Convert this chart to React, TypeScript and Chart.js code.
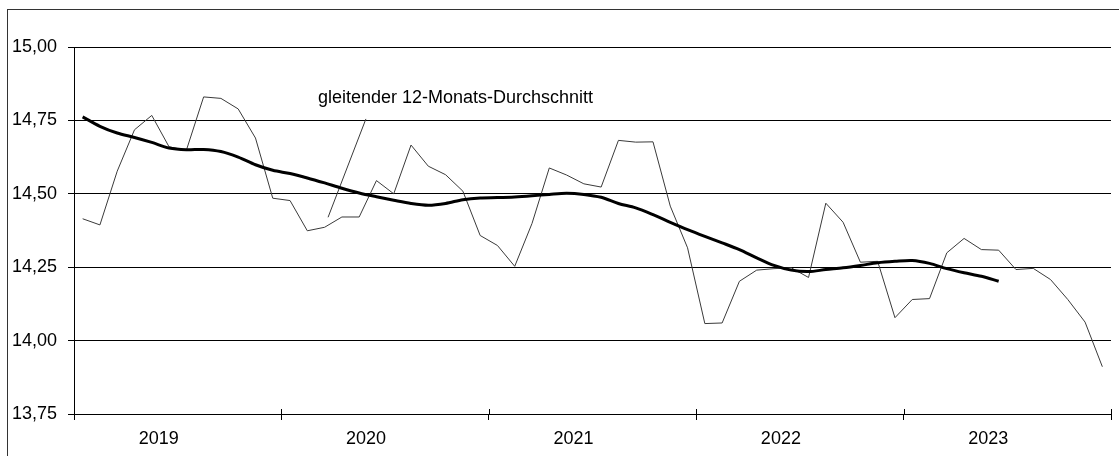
import React, { useEffect, useRef } from "react";
import { Chart, registerables } from "chart.js";

Chart.register(...registerables);

// Monthly values (Jan 2019 .. Dec 2023)
const monthlyValues: number[] = [
  14.415, 14.394, 14.577, 14.718, 14.767, 14.66, 14.648, 14.83, 14.825, 14.789, 14.69, 14.485,
  14.477, 14.374, 14.386, 14.421, 14.421, 14.545, 14.5, 14.666, 14.594, 14.565, 14.509, 14.358,
  14.324, 14.253, 14.399, 14.588, 14.564, 14.534, 14.523, 14.682, 14.676, 14.677, 14.458, 14.316,
  14.058, 14.06, 14.202, 14.24, 14.245, 14.248, 14.215, 14.468, 14.403, 14.267, 14.27, 14.078,
  14.14, 14.143, 14.299, 14.348, 14.31, 14.308, 14.242, 14.246, 14.208, 14.14, 14.063, 13.911,
];

// Moving 12-month average (available for the first 54 months)
const movingAverage: number[] = [
  14.762, 14.73, 14.707, 14.692, 14.675, 14.656, 14.65, 14.651, 14.644, 14.625, 14.599, 14.58,
  14.569, 14.554, 14.537, 14.519, 14.503, 14.49, 14.478, 14.467, 14.461, 14.467, 14.48, 14.486,
  14.487, 14.489, 14.493, 14.498, 14.502, 14.498, 14.488, 14.467, 14.452, 14.429, 14.403, 14.378,
  14.355, 14.333, 14.31, 14.282, 14.256, 14.24, 14.235, 14.242, 14.248, 14.256, 14.265, 14.27,
  14.273, 14.263, 14.245, 14.231, 14.219, 14.202,
];

const years: string[] = ["2019", "2020", "2021", "2022", "2023"];
const yTicks: number[] = [13.75, 14.0, 14.25, 14.5, 14.75, 15.0];

// Callout line for the moving-average label (month index, value)
const calloutX: number[] = [14.2, 16.39];
const calloutY: number[] = [14.42, 14.755];
const calloutText = "gleitender 12-Monats-Durchschnitt";
const calloutLabelX = 21.57;
const calloutLabelY = 14.81;

const FONT = "'Liberation Sans', Arial, Helvetica, sans-serif";

export default function App() {
  const canvasRef = useRef<HTMLCanvasElement | null>(null);

  useEffect(() => {
    const canvas = canvasRef.current;
    if (!canvas) return;

    const boundaries = years.map((_, i) => i * 12 - 0.5).concat([years.length * 12 - 0.5]);
    const labelPos = years.map((_, i) => i * 12 + 4.4);
    const yearAt = (v: number) => {
      const idx = labelPos.findIndex((c) => Math.abs(c - v) < 1e-6);
      return idx >= 0 ? years[idx] : "";
    };
    const isBoundary = (v: number) => boundaries.some((b) => Math.abs(b - v) < 1e-6);

    const annotationPlugin = {
      id: "annot",
      afterDatasetsDraw(chart: any) {
        const { ctx, scales } = chart;
        const xs = scales.x;
        const ys = scales.y;
        ctx.save();
        ctx.strokeStyle = "#000";
        ctx.lineWidth = 1;
        boundaries.forEach((b) => {
          const px = Math.round(xs.getPixelForValue(b)) + 0.5;
          ctx.beginPath();
          ctx.moveTo(px, ys.bottom - 5);
          ctx.lineTo(px, ys.bottom);
          ctx.stroke();
        });
        ctx.fillStyle = "#000";
        ctx.font = `18px ${FONT}`;
        ctx.textAlign = "center";
        ctx.textBaseline = "alphabetic";
        ctx.fillText(calloutText, xs.getPixelForValue(calloutLabelX), ys.getPixelForValue(calloutLabelY));
        ctx.restore();
      },
    };

    const chart = new Chart(canvas, {
      type: "line",
      data: {
        datasets: [
          {
            label: "Monatswert",
            data: monthlyValues.map((v, i) => ({ x: i, y: v })),
            borderColor: "#3a3a3a",
            borderWidth: 1,
            pointRadius: 0,
            tension: 0,
            order: 2,
          },
          {
            label: "gleitender 12-Monats-Durchschnitt",
            data: movingAverage.map((v, i) => ({ x: i, y: v })),
            borderColor: "#000",
            borderWidth: 3,
            pointRadius: 0,
            tension: 0.3,
            order: 1,
          },
          {
            label: "Hinweislinie",
            data: calloutX.map((x, i) => ({ x, y: calloutY[i] })),
            borderColor: "#3a3a3a",
            borderWidth: 1,
            pointRadius: 0,
            tension: 0,
            order: 3,
          },
        ],
      },
      options: {
        animation: false,
        responsive: true,
        maintainAspectRatio: false,
        layout: { padding: { top: 47, right: 6, left: 0, bottom: 0 } },
        plugins: {
          legend: { display: false },
          tooltip: { enabled: false },
          title: { display: false },
        },
        scales: {
          x: {
            type: "linear",
            min: -0.5,
            max: years.length * 12 - 0.5,
            afterBuildTicks: (scale: any) => {
              const vals = boundaries.concat(labelPos).sort((a, b) => a - b);
              scale.ticks = vals.map((v) => ({ value: v }));
            },
            afterFit: (scale: any) => {
              scale.height = 42;
            },
            border: { display: true, color: "#000", width: 1 },
            grid: {
              drawOnChartArea: false,
              drawTicks: true,
              tickLength: 6,
              tickColor: (ctx: any) => (ctx.tick && isBoundary(ctx.tick.value) ? "#000" : "rgba(0,0,0,0)"),
              color: "rgba(0,0,0,0)",
            },
            ticks: {
              autoSkip: false,
              maxRotation: 0,
              minRotation: 0,
              padding: 8,
              color: "#000",
              font: { family: FONT, size: 18 },
              callback: (v: any) => yearAt(Number(v)),
            },
          },
          y: {
            type: "linear",
            min: 13.75,
            max: 15,
            afterBuildTicks: (scale: any) => {
              scale.ticks = yTicks.map((v) => ({ value: v }));
            },
            afterFit: (scale: any) => {
              scale.width = 74;
            },
            border: { display: true, color: "#000", width: 1 },
            grid: {
              color: "#000",
              lineWidth: 1,
              tickLength: 6,
              tickColor: "#000",
            },
            ticks: {
              padding: 11,
              color: "#000",
              font: { family: FONT, size: 18 },
              callback: (v: any) => Number(v).toFixed(2).replace(".", ","),
            },
          },
        },
      },
      plugins: [annotationPlugin],
    } as any);

    return () => chart.destroy();
  }, []);

  return (
    <div
      style={{
        position: "fixed",
        left: 0,
        top: 0,
        width: 1119,
        height: 456,
        overflow: "hidden",
        background: "#fff",
      }}
    >
      <div
        style={{
          position: "absolute",
          left: 7,
          top: 9,
          width: 1200,
          height: 600,
          borderTop: "1px solid #333",
          borderLeft: "1px solid #333",
        }}
      />
      <div style={{ position: "absolute", left: 0, top: 0, width: 1119, height: 456 }}>
        <canvas ref={canvasRef} />
      </div>
    </div>
  );
}
